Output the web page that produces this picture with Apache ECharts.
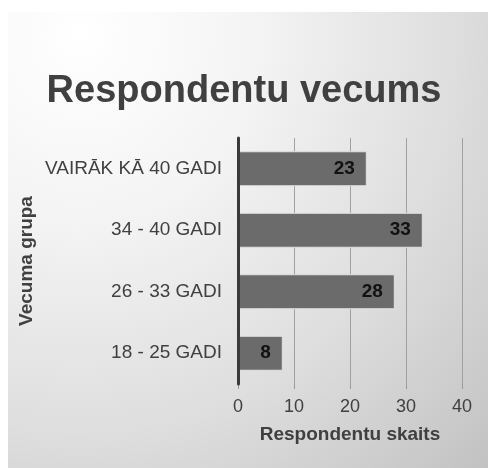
<!DOCTYPE html>
<html>
<head>
<meta charset="utf-8">
<script src="https://cdn.jsdelivr.net/npm/echarts@6/dist/echarts.min.js"></script>
<style>
    html, body { margin: 0; padding: 0; background: #fff; }
    .panel {
        position: absolute; left: 8px; top: 12px; width: 480px; height: 456px;
        background: radial-gradient(ellipse at 15% 5%, #ffffff 0%, #f4f4f4 30%, #dedede 65%, #c2c2c2 100%);
    }
    #chart { position: absolute; left: 0; top: 0; width: 488px; height: 468px; }
</style>
</head>
<body>
<div class="panel"></div>
<div id="chart"></div>
<script>
// vecuma grupas (no apakšas uz augšu)
const groups = ['18 - 25 GADI', '26 - 33 GADI', '34 - 40 GADI', 'VAIRĀK KĀ 40 GADI']
const counts = [8, 28, 33, 23]
const xTicks = { min: 0, max: 40, interval: 10 }

const chart = echarts.init(document.getElementById('chart'))
const font = 'Liberation Sans, Arial, sans-serif'

chart.setOption({
    backgroundColor: 'transparent',
    animation: false,
    title: {
        text: 'Respondentu vecums',
        left: 'center',
        top: 68,
        textStyle: { fontFamily: font, fontSize: 38, fontWeight: 'bold', color: '#404040' }
    },
    grid: { left: 238, right: 26, top: 138, bottom: 84 },
    xAxis: {
        type: 'value',
        min: xTicks.min,
        max: xTicks.max,
        interval: xTicks.interval,
        name: 'Respondentu skaits',
        nameLocation: 'middle',
        nameGap: 41,
        nameTextStyle: { fontFamily: font, fontSize: 19, fontWeight: 'bold', color: '#404040' },
        axisLine: { show: false },
        axisTick: { show: true, length: 5, lineStyle: { color: '#999' } },
        axisLabel: { margin: 14, fontFamily: font, fontSize: 18, color: '#404040' },
        splitLine: { show: true, lineStyle: { color: '#a0a0a0', width: 1 } }
    },
    yAxis: {
        type: 'category',
        data: groups,
        z: 5,
        name: 'Vecuma grupa',
        nameLocation: 'middle',
        nameRotate: 90,
        nameGap: 202,
        nameTextStyle: { fontFamily: font, fontSize: 19, fontWeight: 'bold', color: '#404040' },
        axisLine: { show: true, lineStyle: { color: '#3a3a3a', width: 3 } },
        axisTick: { show: false },
        axisLabel: { margin: 16, fontFamily: font, fontSize: 19, color: '#404040' }
    },
    series: [
        {
            type: 'bar',
            data: counts,
            barWidth: 35,
            itemStyle: { color: '#6b6b6b', borderColor: '#e2e2e2', borderWidth: 1 },
            label: {
                show: true,
                position: 'insideRight',
                distance: 12,
                fontFamily: font,
                fontSize: 19,
                fontWeight: 'bold',
                color: '#111'
            }
        }
    ]
})
</script>
</body>
</html>
